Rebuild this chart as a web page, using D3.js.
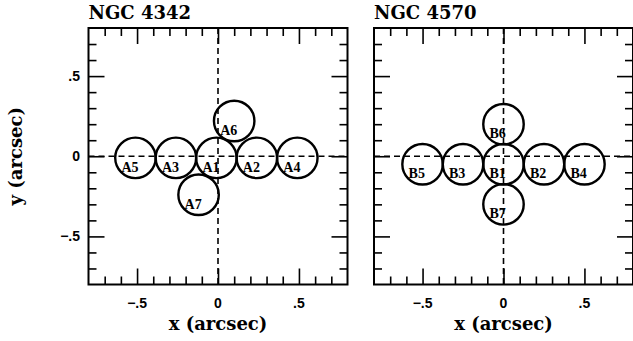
<!DOCTYPE html>
<html>
<head>
<meta charset="utf-8">
<script src="https://cdn.jsdelivr.net/npm/d3@7"></script>
<style>
    body { margin: 0; background: #fff; }
</style>
</head>
<body>
<div id="chart"></div>
<script>
// aperture positions (arcsec) for the two galaxies
const titles = ['NGC 4342', 'NGC 4570'];

const namesA = ['A1', 'A2', 'A3', 'A4', 'A5', 'A6', 'A7'];
const xA = [-0.01, 0.24, -0.26, 0.49, -0.51, 0.10, -0.12];
const yA = [-0.01, -0.01, -0.01, -0.01, -0.01, 0.22, -0.24];

const namesB = ['B1', 'B2', 'B3', 'B4', 'B5', 'B6', 'B7'];
const xB = [0.00, 0.25, -0.25, 0.50, -0.50, 0.00, 0.00];
const yB = [-0.05, -0.05, -0.05, -0.05, -0.05, 0.20, -0.30];

const apertureRadius = 0.125;

const minorTicks = [-0.7, -0.6, -0.4, -0.3, -0.2, -0.1, 0.1, 0.2, 0.3, 0.4, 0.6, 0.7];
const majorTicks = [-0.5, 0, 0.5];
const tickLabels = ['\u2212.5', '0', '.5'];

const width = 633;
const height = 341;

const svg = d3.select('#chart')
    .append('svg')
    .attr('width', width)
    .attr('height', height);

const serif = 'DejaVu Serif';

function drawPanel(left, right, title, names, xs, ys, showY) {
    const x = d3.scaleLinear().domain([-0.8, 0.8]).range([left, right]);
    const y = d3.scaleLinear().domain([-0.8, 0.8]).range([284.5, 28]);
    const g = svg.append('g');

    // ticks on all four sides, pointing inward
    const sides = [
        [d3.axisBottom(x), `translate(0,${y(-0.8)})`],
        [d3.axisTop(x), `translate(0,${y(0.8)})`],
        [d3.axisLeft(y), `translate(${x(-0.8)},0)`],
        [d3.axisRight(y), `translate(${x(0.8)},0)`]
    ];
    sides.forEach(([axis, tr]) => {
        [[minorTicks, 8], [majorTicks, 16]].forEach(([vals, len]) => {
            const a = g.append('g')
                .attr('transform', tr)
                .call(axis.tickValues(vals).tickSize(-len).tickSizeOuter(0).tickFormat(''));
            a.select('.domain').remove();
            a.selectAll('line').attr('stroke', '#000').attr('stroke-width', 1.6);
        });
    });

    // frame
    g.append('rect')
        .attr('x', x(-0.8))
        .attr('y', y(0.8))
        .attr('width', x(0.8) - x(-0.8))
        .attr('height', y(-0.8) - y(0.8))
        .attr('fill', 'none')
        .attr('stroke', '#000')
        .attr('stroke-width', 2);

    // dashed zero lines
    g.append('line')
        .attr('x1', x(-0.8)).attr('x2', x(0.8))
        .attr('y1', y(0)).attr('y2', y(0))
        .attr('stroke', '#000').attr('stroke-width', 1.6)
        .attr('stroke-dasharray', '6,4');
    g.append('line')
        .attr('x1', x(0)).attr('x2', x(0))
        .attr('y1', y(0.8)).attr('y2', y(-0.8))
        .attr('stroke', '#000').attr('stroke-width', 1.6)
        .attr('stroke-dasharray', '6,4');

    // apertures
    const data = names.map((n, i) => ({ name: n, x: xs[i], y: ys[i] }));
    g.selectAll('circle.ap')
        .data(data)
        .join('circle')
        .attr('class', 'ap')
        .attr('cx', d => x(d.x))
        .attr('cy', d => y(d.y))
        .attr('r', x(apertureRadius) - x(0))
        .attr('fill', 'none')
        .attr('stroke', '#000')
        .attr('stroke-width', 2.4);
    g.selectAll('text.ap')
        .data(data)
        .join('text')
        .attr('class', 'ap')
        .attr('x', d => x(d.x) - 14)
        .attr('y', d => y(d.y) + 14)
        .style('font-family', 'Liberation Serif')
        .style('font-weight', 'bold')
        .style('font-size', '14px')
        .text(d => d.name);

    // x tick labels
    g.selectAll('text.xt')
        .data(majorTicks)
        .join('text')
        .attr('class', 'xt')
        .attr('x', d => x(d))
        .attr('y', 308)
        .attr('text-anchor', 'middle')
        .style('font-family', 'Liberation Sans')
        .style('font-weight', 'bold')
        .style('font-size', '14px')
        .text((d, i) => tickLabels[i]);

    if (showY) {
        g.selectAll('text.yt')
            .data(majorTicks)
            .join('text')
            .attr('class', 'yt')
            .attr('x', 80)
            .attr('y', d => y(d) + 5)
            .attr('text-anchor', 'end')
            .style('font-family', 'Liberation Sans')
            .style('font-weight', 'bold')
            .style('font-size', '14px')
            .text((d, i) => tickLabels[i]);

        g.append('text')
            .attr('transform', `translate(22,${y(0)}) rotate(-90)`)
            .attr('text-anchor', 'middle')
            .style('font-family', serif)
            .style('font-weight', 'bold')
            .style('font-size', '18px')
            .text('y (arcsec)');
    }

    g.append('text')
        .attr('x', x(0))
        .attr('y', 330)
        .attr('text-anchor', 'middle')
        .style('font-family', serif)
        .style('font-weight', 'bold')
        .style('font-size', '18px')
        .text('x (arcsec)');

    g.append('text')
        .attr('x', left)
        .attr('y', 19)
        .style('font-family', serif)
        .style('font-weight', 'bold')
        .style('font-size', '18px')
        .text(title);
}

drawPanel(88.5, 347.5, titles[0], namesA, xA, yA, true);
drawPanel(374, 633, titles[1], namesB, xB, yB, false);
</script>
</body>
</html>
